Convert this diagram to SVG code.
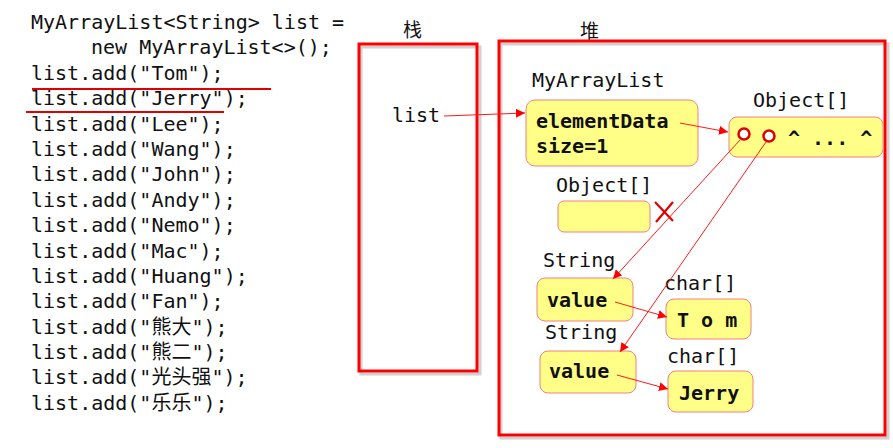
<svg xmlns="http://www.w3.org/2000/svg" width="893" height="448" viewBox="0 0 893 448">
<defs>
<style>
.code{font-family:"DejaVu Sans Mono","Liberation Mono","Noto Sans CJK SC",monospace;font-size:20px;fill:#111}
.lbl{font-family:"DejaVu Sans Mono","Liberation Mono",monospace;font-size:20px;fill:#111}
.b{font-weight:bold}
.cjk{font-family:"Noto Sans CJK SC",sans-serif;font-size:19px;fill:#111}
.frame{fill:none;stroke:#ff0000;stroke-width:3}
.shadow{fill:none;stroke:#b0b0b0;stroke-width:3;opacity:0.6}
.box{fill:#ffff88;stroke:#f08080;stroke-width:1}
.conn{stroke:#ff1a1a;stroke-width:1;fill:none;marker-end:url(#ah)}
.ul{stroke:#e00000;stroke-width:2}
</style>
<marker id="ah" viewBox="0 0 10 10" refX="10" refY="5" markerWidth="9" markerHeight="9" markerUnits="userSpaceOnUse" orient="auto">
<path d="M0,0 L10,5 L0,10 z" fill="#ff0000"/>
</marker>
</defs>
<rect width="893" height="448" fill="#ffffff"/>

<g id="code">
<text class="code" x="31" y="29">MyArrayList&lt;String&gt; list =</text>
<text class="code" x="91" y="54">new MyArrayList&lt;&gt;();</text>
<text class="code" x="31" y="80">list.add("Tom");</text>
<text class="code" x="31" y="105">list.add("Jerry");</text>
<text class="code" x="31" y="131">list.add("Lee");</text>
<text class="code" x="31" y="156">list.add("Wang");</text>
<text class="code" x="31" y="181">list.add("John");</text>
<text class="code" x="31" y="207">list.add("Andy");</text>
<text class="code" x="31" y="232">list.add("Nemo");</text>
<text class="code" x="31" y="258">list.add("Mac");</text>
<text class="code" x="31" y="283">list.add("Huang");</text>
<text class="code" x="31" y="308">list.add("Fan");</text>
<text class="code" x="31" y="334">list.add("熊大");</text>
<text class="code" x="31" y="359">list.add("熊二");</text>
<text class="code" x="31" y="384">list.add("光头强");</text>
<text class="code" x="31" y="410">list.add("乐乐");</text>
<line class="ul" x1="32" y1="89" x2="271" y2="89"/>
<line class="ul" x1="26" y1="112" x2="224" y2="112"/>
</g>

<g id="stack">
<rect class="shadow" x="361" y="47" width="119" height="327"/>
<rect class="frame" x="359" y="44" width="118" height="327"/>
<text class="cjk" x="403" y="37">栈</text>
<text class="lbl" x="392" y="122">list</text>
</g>

<g id="heap">
<rect class="shadow" x="501" y="44" width="387" height="394"/>
<rect class="frame" x="499" y="41" width="386" height="394"/>
<text class="cjk" x="580" y="38">堆</text>
</g>

<g id="myarraylist">
<text class="lbl" x="532" y="87">MyArrayList</text>
<rect class="box" x="526" y="100" width="172" height="66" rx="9"/>
<text class="lbl b" x="536" y="128">elementData</text>
<text class="lbl b" x="536" y="153">size=1</text>
</g>

<g id="objarray">
<text class="lbl" x="753" y="107">Object[]</text>
<rect class="box" x="729" y="117" width="154" height="40" rx="8"/>
<circle cx="744" cy="134" r="5.5" fill="#ffffff" stroke="#e00000" stroke-width="2.5"/>
<circle cx="769" cy="136" r="5.5" fill="#ffffff" stroke="#e00000" stroke-width="2.5"/>
<text class="lbl b" x="788" y="145">^ ... ^</text>
</g>

<g id="oldarray">
<text class="lbl" x="556" y="192">Object[]</text>
<rect class="box" x="558" y="201" width="92" height="31" rx="6" stroke="#e00000" stroke-width="1.5"/>
<path d="M655,202 L673,221 M673,202 L656,222" stroke="#e00000" stroke-width="2.2" fill="none"/>
</g>

<g id="string1">
<text class="lbl" x="543" y="267">String</text>
<rect class="box" x="537" y="278" width="96" height="43" rx="8"/>
<text class="lbl b" x="547" y="307">value</text>
</g>

<g id="chars1">
<text class="lbl" x="664" y="290">char[]</text>
<rect class="box" x="666" y="299" width="85" height="40" rx="8"/>
<text class="lbl b" x="677" y="327">T o m</text>
</g>

<g id="string2">
<text class="lbl" x="545" y="339">String</text>
<rect class="box" x="540" y="351" width="96" height="42" rx="8"/>
<text class="lbl b" x="549" y="378">value</text>
</g>

<g id="chars2">
<text class="lbl" x="667" y="363">char[]</text>
<rect class="box" x="668" y="371" width="85" height="41" rx="8"/>
<text class="lbl b" x="679" y="400">Jerry</text>
</g>

<g id="connectors">
<line class="conn" x1="444" y1="116" x2="525" y2="113"/>
<line class="conn" x1="680" y1="123" x2="728" y2="132"/>
<line class="conn" x1="740" y1="140" x2="613" y2="279"/>
<line class="conn" x1="766" y1="142" x2="620" y2="352"/>
<line class="conn" x1="615" y1="302" x2="667" y2="317"/>
<line class="conn" x1="617" y1="375" x2="668" y2="389"/>
</g>
</svg>
